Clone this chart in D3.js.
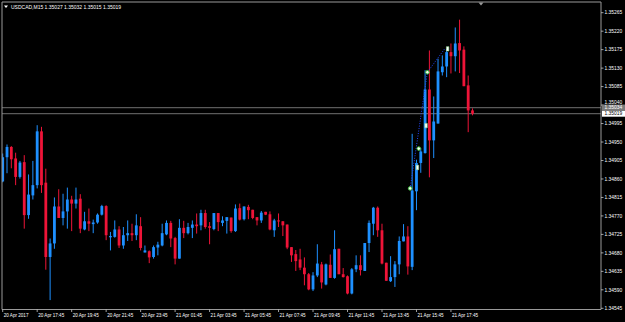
<!DOCTYPE html>
<html>
<head>
<meta charset="utf-8">
<script src="https://cdn.jsdelivr.net/npm/d3@7"></script>
<style>
html, body { margin: 0; background: #000; overflow: hidden; }
text { font-family: "Liberation Sans", Arial, sans-serif; }
</style>
</head>
<body>
<svg id="chart" width="625" height="322"></svg>
<script>
// USDCAD M15, 20 Apr 15:45 .. 21 Apr 19:00
const open = [
  1.34854, 1.34913, 1.34938, 1.34910, 1.34865, 1.34901, 1.34772, 1.34820, 1.34845, 1.34976,
  1.34851, 1.34670, 1.34703, 1.34793, 1.34765, 1.34781, 1.34810, 1.34800, 1.34812, 1.34737,
  1.34757, 1.34750, 1.34754, 1.34773, 1.34794, 1.34718, 1.34719, 1.34737, 1.34698, 1.34723,
  1.34728, 1.34723, 1.34745, 1.34681, 1.34684, 1.34670, 1.34693, 1.34698, 1.34725, 1.34753,
  1.34716, 1.34666, 1.34741, 1.34728, 1.34741, 1.34749, 1.34747, 1.34777, 1.34745, 1.34738,
  1.34777, 1.34753, 1.34758, 1.34766, 1.34733, 1.34789, 1.34762, 1.34792, 1.34785, 1.34767,
  1.34759, 1.34780, 1.34774, 1.34735, 1.34759, 1.34757, 1.34749, 1.34694, 1.34677, 1.34664,
  1.34644, 1.34628, 1.34591, 1.34625, 1.34652, 1.34603, 1.34651, 1.34619, 1.34690, 1.34628,
  1.34623, 1.34581, 1.34640, 1.34650, 1.34636, 1.34704, 1.34751, 1.34790, 1.34735, 1.34656,
  1.34611, 1.34621, 1.34652, 1.34708, 1.34720, 1.34646, 1.34830, 1.34899, 1.34923, 1.35078,
  1.34954, 1.34995, 1.35120, 1.35134, 1.35169, 1.35159, 1.35191, 1.35175, 1.35088, 1.35027
];
const high = [
  1.34922, 1.34944, 1.34940, 1.34924, 1.34904, 1.34918, 1.34871, 1.34904, 1.34991, 1.34987,
  1.34885, 1.34715, 1.34815, 1.34835, 1.34824, 1.34839, 1.34819, 1.34839, 1.34823, 1.34780,
  1.34788, 1.34761, 1.34776, 1.34797, 1.34796, 1.34731, 1.34759, 1.34745, 1.34743, 1.34759,
  1.34751, 1.34774, 1.34767, 1.34698, 1.34686, 1.34698, 1.34707, 1.34751, 1.34759, 1.34758,
  1.34719, 1.34762, 1.34758, 1.34753, 1.34759, 1.34776, 1.34785, 1.34785, 1.34755, 1.34777,
  1.34777, 1.34769, 1.34767, 1.34766, 1.34798, 1.34800, 1.34793, 1.34797, 1.34785, 1.34767,
  1.34782, 1.34780, 1.34781, 1.34763, 1.34776, 1.34757, 1.34749, 1.34694, 1.34687, 1.34690,
  1.34669, 1.34631, 1.34633, 1.34701, 1.34658, 1.34654, 1.34676, 1.34735, 1.34690, 1.34643,
  1.34625, 1.34643, 1.34674, 1.34674, 1.34704, 1.34759, 1.34792, 1.34793, 1.34751, 1.34656,
  1.34672, 1.34660, 1.34720, 1.34750, 1.34745, 1.34970, 1.34907, 1.34935, 1.35125, 1.35173,
  1.35061, 1.35153, 1.35161, 1.35177, 1.35190, 1.35229, 1.35248, 1.35183, 1.35112, 1.35032
];
const low = [
  1.34852, 1.34874, 1.34886, 1.34845, 1.34861, 1.34739, 1.34763, 1.34810, 1.34837, 1.34826,
  1.34639, 1.34565, 1.34690, 1.34765, 1.34747, 1.34739, 1.34733, 1.34788, 1.34728, 1.34735,
  1.34733, 1.34728, 1.34751, 1.34771, 1.34711, 1.34686, 1.34717, 1.34692, 1.34690, 1.34709,
  1.34709, 1.34711, 1.34686, 1.34681, 1.34655, 1.34666, 1.34674, 1.34696, 1.34723, 1.34694,
  1.34652, 1.34666, 1.34716, 1.34725, 1.34716, 1.34727, 1.34735, 1.34739, 1.34701, 1.34735,
  1.34733, 1.34745, 1.34727, 1.34729, 1.34731, 1.34759, 1.34759, 1.34762, 1.34762, 1.34747,
  1.34753, 1.34772, 1.34735, 1.34719, 1.34743, 1.34721, 1.34689, 1.34658, 1.34636, 1.34638,
  1.34601, 1.34589, 1.34587, 1.34621, 1.34593, 1.34601, 1.34619, 1.34617, 1.34628, 1.34620,
  1.34579, 1.34579, 1.34633, 1.34625, 1.34636, 1.34682, 1.34723, 1.34719, 1.34652, 1.34612,
  1.34609, 1.34597, 1.34628, 1.34708, 1.34627, 1.34638, 1.34784, 1.34875, 1.34922, 1.34864,
  1.34911, 1.34995, 1.35112, 1.35108, 1.35117, 1.35122, 1.35118, 1.35086, 1.34974, 1.35015
];
const close = [
  1.34913, 1.34938, 1.34908, 1.34865, 1.34900, 1.34772, 1.34822, 1.34845, 1.34976, 1.34845,
  1.34670, 1.34703, 1.34793, 1.34765, 1.34781, 1.34810, 1.34800, 1.34810, 1.34739, 1.34757,
  1.34751, 1.34754, 1.34773, 1.34794, 1.34723, 1.34721, 1.34737, 1.34698, 1.34723, 1.34728,
  1.34723, 1.34747, 1.34692, 1.34686, 1.34669, 1.34694, 1.34700, 1.34728, 1.34753, 1.34715,
  1.34666, 1.34741, 1.34728, 1.34743, 1.34749, 1.34745, 1.34777, 1.34743, 1.34741, 1.34777,
  1.34755, 1.34759, 1.34767, 1.34733, 1.34788, 1.34761, 1.34793, 1.34784, 1.34765, 1.34759,
  1.34778, 1.34773, 1.34737, 1.34759, 1.34757, 1.34747, 1.34693, 1.34674, 1.34660, 1.34644,
  1.34628, 1.34591, 1.34625, 1.34654, 1.34608, 1.34652, 1.34619, 1.34689, 1.34628, 1.34621,
  1.34581, 1.34640, 1.34650, 1.34638, 1.34704, 1.34753, 1.34790, 1.34735, 1.34654, 1.34612,
  1.34621, 1.34652, 1.34709, 1.34720, 1.34647, 1.34832, 1.34899, 1.34927, 1.35078, 1.34954,
  1.35000, 1.35122, 1.35134, 1.35169, 1.35159, 1.35190, 1.35173, 1.35086, 1.35027, 1.35019
];

const priceTicks = [
  1.35265, 1.35220, 1.35175, 1.35130, 1.35085, 1.35040, 1.34995, 1.34950, 1.34905,
  1.34860, 1.34815, 1.34770, 1.34725, 1.34680, 1.34635, 1.34590, 1.34545
];
const timeLabels = [
  "20 Apr 2017", "20 Apr 17:45", "20 Apr 19:45", "20 Apr 21:45", "20 Apr 23:45",
  "21 Apr 01:45", "21 Apr 03:45", "21 Apr 05:45", "21 Apr 07:45", "21 Apr 09:45",
  "21 Apr 11:45", "21 Apr 13:45", "21 Apr 15:45", "21 Apr 17:45"
];
const barsPerLabel = 8;

const bid = 1.35019, ask = 1.35034;

// trade history marks (bar index, price)
const openMarks = [[95, 1.34837], [97, 1.34934], [99, 1.35120]];
const closeMarks = [[96, 1.34888], [98, 1.34990], [103, 1.35177]];
const tradeLine = [[95, 1.34837], [99, 1.35120], [103, 1.35177]];

var W = 625, H = 322;
var plot = {left: 2, top: 2, right: 601, bottom: 309.5};
var bullCol = '#1e90ff', bearCol = '#ee1438';

var svg = d3.select('#chart');
svg.append('rect').attr('width', W).attr('height', H).attr('fill', '#000');

var x = d3.scaleLinear().domain([0, open.length - 1]).range([2.7, 472.5]);
var y = d3.scaleLinear().domain([1.34545, 1.35265]).range([308.3, 12.7]);

svg.append('clipPath').attr('id', 'plotClip')
  .append('rect')
  .attr('x', plot.left).attr('y', plot.top)
  .attr('width', plot.right - plot.left).attr('height', plot.bottom - plot.top);

var g = svg.append('g').attr('clip-path', 'url(#plotClip)');

// bid / ask lines
g.selectAll('.priceLine')
  .data([ask, bid]).enter()
  .append('line')
  .attr('class', 'priceLine')
  .attr('x1', plot.left).attr('x2', plot.right)
  .attr('y1', d => y(d)).attr('y2', d => y(d))
  .attr('stroke', '#5a5a5a')
  .attr('stroke-width', 1.3);

// candles
g.selectAll('.candle')
  .data(d3.range(open.length)).enter()
  .append('g')
  .attr('class', 'candle')
  .each(function(i) {
    var c = d3.select(this);
    var up = close[i] >= open[i];
    var col = up ? bullCol : bearCol;
    c.append('line')
      .attr('x1', x(i)).attr('x2', x(i))
      .attr('y1', y(high[i])).attr('y2', y(low[i]))
      .attr('stroke', col)
      .attr('stroke-width', 1);
    var top = y(Math.max(open[i], close[i]));
    var bot = y(Math.min(open[i], close[i]));
    c.append('rect')
      .attr('x', x(i) - 1.4)
      .attr('y', top)
      .attr('width', 2.8)
      .attr('height', Math.max(1, bot - top))
      .attr('fill', col);
  });

// trade line + marks
g.append('path')
  .attr('d', d3.line().x(d => x(d[0]) - 2).y(d => y(d[1]))(tradeLine))
  .attr('fill', 'none')
  .attr('stroke', '#2448ff')
  .attr('stroke-width', 1)
  .attr('stroke-dasharray', '1,1.5');

g.selectAll('.openMark')
  .data(openMarks).enter()
  .append('circle')
  .attr('class', 'openMark')
  .attr('cx', d => x(d[0]) - 2)
  .attr('cy', d => y(d[1]))
  .attr('r', 1.8)
  .attr('fill', '#f4fff0')
  .attr('stroke', '#3cb83c')
  .attr('stroke-width', 1);

g.selectAll('.closeMark')
  .data(closeMarks).enter()
  .append('path')
  .attr('class', 'closeMark')
  .attr('d', d => {
    var cx = x(d[0]) + 1, cy = y(d[1]);
    return 'M' + (cx - 1.2) + ',' + (cy - 2.2) + 'L' + (cx + 1.2) + ',' + (cy - 2.2) +
      'L' + (cx + 1.2) + ',' + (cy + 2.2) + 'L' + (cx - 1.2) + ',' + (cy + 2.2) + 'Z';
  })
  .attr('fill', '#ffffff')
  .attr('stroke', '#9be09b')
  .attr('stroke-width', 0.6);

// frame
svg.append('path')
  .attr('d', 'M' + plot.left + ',' + plot.bottom + 'V' + plot.top + 'H' + plot.right +
    'V' + plot.bottom + 'H' + plot.left)
  .attr('fill', 'none')
  .attr('stroke', '#9a9a9a')
  .attr('stroke-width', 1);

// price axis (the ask tag covers the one tick label that falls under it)
var pAxis = svg.append('g');
pAxis.selectAll('.ptick')
  .data(priceTicks).enter()
  .append('g')
  .attr('class', 'ptick')
  .attr('transform', d => 'translate(' + plot.right + ',' + y(d) + ')')
  .each(function(d) {
    var t = d3.select(this);
    t.append('line').attr('x1', 0).attr('x2', 2.5)
      .attr('stroke', '#c8c8c8').attr('stroke-width', 0.8);
    t.append('text')
      .attr('x', 3.5).attr('y', Math.abs(d - ask) < 0.0001 ? -0.6 : 1.7)
      .attr('fill', '#ffffff')
      .attr('font-size', 4.9)
      .text(d.toFixed(5));
  });

// ask / bid labels on the axis
var tags = [[ask, '#7a7a7a', '#ffffff'], [bid, '#ffffff', '#000000']];
tags.forEach(function(t) {
  var ty = y(t[0]);
  svg.append('rect')
    .attr('x', plot.right + 1).attr('y', ty - 3)
    .attr('width', 23).attr('height', 6)
    .attr('fill', t[1]);
  svg.append('text')
    .attr('x', plot.right + 3.5).attr('y', ty + 1.8)
    .attr('fill', t[2])
    .attr('font-size', 4.9)
    .text(t[0].toFixed(5));
});

// time axis
var tAxis = svg.append('g');
tAxis.selectAll('.ttick')
  .data(timeLabels).enter()
  .append('g')
  .attr('class', 'ttick')
  .attr('transform', (d, i) => 'translate(' + x(i * barsPerLabel) + ',' + plot.bottom + ')')
  .each(function(d) {
    var t = d3.select(this);
    t.append('line').attr('y1', 0).attr('y2', 2.5)
      .attr('stroke', '#c8c8c8').attr('stroke-width', 0.8);
    t.append('text')
      .attr('x', 1).attr('y', 7.3)
      .attr('fill', '#ffffff')
      .attr('font-size', 4.6)
      .text(d);
  });

// header
svg.append('path')
  .attr('d', 'M4,5.5L8,5.5L6,8Z')
  .attr('fill', '#ffffff');
svg.append('text')
  .attr('x', 11).attr('y', 8.6)
  .attr('fill', '#ffffff')
  .attr('font-size', 5)
  .text('USDCAD,M15  ' + [open, high, low, close].map(a => a[a.length - 1].toFixed(5)).join(' '));

// chart shift marker
svg.append('path')
  .attr('d', 'M478.5,2.5L483.5,2.5L481,5.5Z')
  .attr('fill', '#9a9a9a');
</script>
</body>
</html>
